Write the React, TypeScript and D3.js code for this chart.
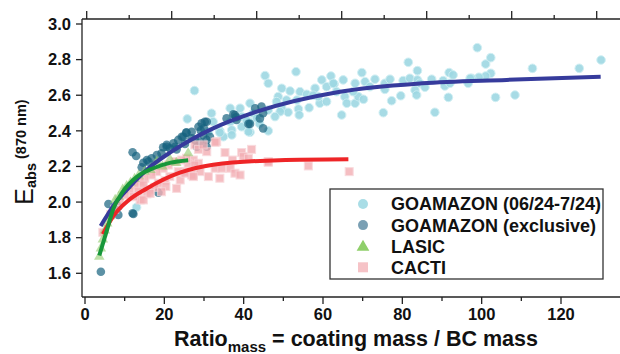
import React from "react";
import * as d3 from "d3";

type P = [number, number];

// GOAMAZON (06/24-7/24)
const goamazonAll: P[] = [
  [98.9, 2.867], [101.0, 2.775], [102.3, 2.811], [102.3, 2.723], [101.0, 2.708], [99.3, 2.701], [97.5, 2.695],
  [103.5, 2.588], [108.4, 2.601], [112.8, 2.751], [124.6, 2.751], [130.1, 2.798],
  [81.5, 2.785], [83.8, 2.738], [69.8, 2.727], [62.0, 2.708], [65.1, 2.686], [62.8, 2.663], [68.1, 2.667],
  [70.6, 2.676], [73.1, 2.69], [75.6, 2.667], [76.9, 2.69], [80.2, 2.682], [81.9, 2.695], [83.8, 2.686],
  [84.4, 2.667], [83.2, 2.629], [83.6, 2.601], [85.7, 2.645], [87.4, 2.69], [90.3, 2.682], [90.7, 2.652],
  [92.0, 2.667], [91.8, 2.727], [92.8, 2.714], [96.6, 2.667], [97.1, 2.695], [63.4, 2.62], [65.5, 2.592],
  [66.0, 2.555], [68.1, 2.555], [68.9, 2.592], [70.2, 2.577], [67.6, 2.62], [71.8, 2.648], [77.3, 2.569],
  [79.6, 2.597], [75.2, 2.502], [88.2, 2.504], [91.6, 2.588], [64.7, 2.489], [75.6, 2.633],
  [53.2, 2.732], [45.4, 2.71], [46.2, 2.667], [49.6, 2.639], [51.7, 2.624], [54.2, 2.62], [48.7, 2.592],
  [50.8, 2.573], [53.4, 2.573], [49.6, 2.527], [51.2, 2.504], [53.8, 2.523], [54.0, 2.489], [49.2, 2.508],
  [48.3, 2.564], [55.9, 2.605], [59.7, 2.686], [60.9, 2.648], [58.0, 2.639], [59.2, 2.555], [60.9, 2.564],
  [58.8, 2.592], [62.6, 2.667], [41.6, 2.555], [39.1, 2.527], [36.6, 2.527], [42.4, 2.499], [39.5, 2.48],
  [36.6, 2.451], [31.9, 2.499], [32.3, 2.451], [34.0, 2.399], [37.0, 2.405], [39.5, 2.423], [41.6, 2.392],
  [46.2, 2.517], [47.9, 2.48], [34.9, 2.367], [31.1, 2.395], [41.4, 2.451],
  [27.6, 2.626], [25.8, 2.467], [13.0, 1.971], [34.0, 2.39], [37.0, 2.377], [41.2, 2.395], [46.2, 2.40],
  [40.8, 2.457], [43.3, 2.47], [56.5, 2.53], [57.5, 2.60], [44.0, 2.44]
];

// GOAMAZON (exclusive)
const goamazonExcl: P[] = [
  [12.0, 2.28], [12.9, 2.259], [15.6, 2.236], [16.8, 2.246], [18.1, 2.264], [19.7, 2.308], [20.6, 2.321],
  [21.4, 2.302], [22.3, 2.33], [23.1, 2.296], [23.5, 2.349], [24.8, 2.367], [25.6, 2.39], [26.9, 2.358],
  [25.2, 2.326], [19.3, 2.274], [14.7, 2.221], [5.9, 1.989], [8.4, 1.974], [12.2, 1.933], [18.5, 2.053],
  [12.0, 1.937], [4.0, 1.609], [8.4, 1.928], [14.3, 2.195], [16.0, 2.227], [20.6, 2.311], [22.7, 2.311],
  [24.4, 2.367], [25.5, 2.39], [27.7, 2.349], [28.2, 2.311], [28.6, 2.423], [29.4, 2.442], [30.0, 2.414],
  [30.7, 2.451], [29.2, 2.401], [26.9, 2.395], [30.7, 2.311], [35.7, 2.47], [37.8, 2.489], [38.2, 2.461],
  [41.2, 2.439], [42.9, 2.527], [44.5, 2.536], [44.9, 2.499], [44.9, 2.414], [31.5, 2.367], [30.2, 2.451],
  [29.8, 2.377], [30.7, 2.349], [29.0, 2.339], [37.4, 2.493], [38.1, 2.476], [41.6, 2.439], [44.1, 2.47]
];

// LASIC
const lasic: P[] = [
  [3.6, 1.693], [4.0, 1.74], [4.5, 1.79], [5.0, 1.84], [5.6, 1.88], [6.3, 1.92], [7.6, 2.012], [8.5, 2.03],
  [9.5, 2.07], [10.5, 2.09], [11.5, 2.11], [12.5, 2.13], [13.5, 2.15], [15.0, 2.17], [16.5, 2.18],
  [18.1, 2.227], [19.5, 2.2], [21.4, 2.24], [23.0, 2.22], [26.0, 2.274]
];

// CACTI
const cacti: P[] = [
  [33.2, 2.339], [30.7, 2.283], [35.3, 2.278], [39.5, 2.278], [39.9, 2.255], [42.0, 2.296], [41.2, 2.246],
  [37.2, 2.236], [46.2, 2.227], [56.3, 2.203], [66.6, 2.171], [27.3, 2.236], [26.0, 2.218], [24.0, 2.124],
  [27.3, 2.152], [29.0, 2.171], [31.1, 2.143], [32.8, 2.19], [34.5, 2.19], [34.0, 2.134], [36.6, 2.19],
  [37.8, 2.162], [39.1, 2.152], [25.2, 2.171], [28.6, 2.218], [32.8, 2.336],
  [27.7, 2.321], [28.6, 2.296], [29.8, 2.321], [25.6, 2.246], [24.4, 2.236], [22.7, 2.227], [21.0, 2.208],
  [19.7, 2.19], [18.1, 2.171], [16.8, 2.152], [15.1, 2.134], [13.9, 2.115], [12.6, 2.096], [11.3, 2.068],
  [10.1, 2.04], [8.8, 2.002], [23.5, 2.171], [21.4, 2.143], [20.2, 2.12], [18.5, 2.106], [17.6, 2.083],
  [16.4, 2.068], [15.6, 2.046], [14.7, 2.096], [13.4, 2.058], [26.9, 2.152], [25.2, 2.162], [27.7, 2.208],
  [27.3, 2.143], [13.9, 2.012], [14.7, 2.012], [12.2, 2.03], [46.2, 2.224], [20.4, 2.087], [19.3, 2.058],
  [23.1, 2.077], [16.4, 2.049], [6.5, 1.93], [7.5, 1.96], [4.5, 1.83]
];

// fitted curves
const fitGoamazon: P[] = [
  [3.95, 1.866], [7.5, 1.99], [11.3, 2.087], [16, 2.19], [21.8, 2.283], [32.3, 2.414], [43.3, 2.508],
  [64.3, 2.62], [85, 2.667], [106.3, 2.686], [130, 2.704]
];
const fitLasic: P[] = [
  [3.6, 1.70], [5.5, 1.84], [7.1, 1.96], [9.6, 2.06], [13, 2.14], [17.2, 2.19], [21.4, 2.22], [26.0, 2.235]
];
const fitCacti: P[] = [
  [4.5, 1.82], [7.1, 1.92], [11, 2.01], [15.5, 2.075], [23.9, 2.165], [32.3, 2.21], [49, 2.235], [66.4, 2.24]
];

const xTicks = [0, 20, 40, 60, 80, 100, 120];
const xMinorTicks = [10, 30, 50, 70, 90, 110];
const yTicks = [1.6, 1.8, 2.0, 2.2, 2.4, 2.6, 2.8, 3.0];
const topTicks = d3.range(0, 13);

const legendLabels = ["GOAMAZON (06/24-7/24)", "GOAMAZON (exclusive)", "LASIC", "CACTI"];

const FONT = "'Liberation Sans', Arial, Helvetica, sans-serif";

export default function App() {
  const W = 620, H = 354;
  const x = d3.scaleLinear().domain([0, 120]).range([85, 561]);
  const y = d3.scaleLinear().domain([1.6, 3.0]).range([273.3, 24]);
  const top = d3.scaleLinear().domain([0, 12]).range([86.7, 596.7]);
  const left = 82, bottom = 297, topY = 19, right = 622;

  const line = d3.line<P>().x(d => x(d[0])).y(d => y(d[1])).curve(d3.curveMonotoneX);
  const tri = d3.symbol().type(d3.symbolTriangle).size(48)();

  const c1 = "#9ed8e3", c2 = "#17637f", c3 = "#8fcb6c", c4 = "#f3aeb4";

  return (
    <svg width={W} height={H} style={{ position: "absolute", left: 0, top: 0, background: "#fff" }} fontFamily={FONT}>
      {/* points */}
      <g>
        {goamazonAll.map((d, i) => (
          <circle key={"a" + i} cx={x(d[0])} cy={y(d[1])} r={4.3} fill={c1} stroke="#cdeef3" strokeWidth={1} opacity={0.9} />
        ))}
        {goamazonExcl.map((d, i) => (
          <circle key={"b" + i} cx={x(d[0])} cy={y(d[1])} r={4.3} fill={c2} opacity={0.7} />
        ))}
        {cacti.map((d, i) => (
          <rect key={"c" + i} x={x(d[0]) - 4} y={y(d[1]) - 4} width={8} height={8} fill={c4} stroke="#f8d3d6" strokeWidth={1} opacity={0.8} />
        ))}
        {lasic.map((d, i) => (
          <path key={"l" + i} d={tri || ""} transform={`translate(${x(d[0])},${y(d[1])})`} fill={c3} opacity={0.6} />
        ))}
      </g>
      {/* fits */}
      <path d={line(fitGoamazon) || ""} fill="none" stroke="#363b9c" strokeWidth={4} strokeLinecap="butt" />
      <path d={line(fitCacti) || ""} fill="none" stroke="#ee2527" strokeWidth={4} />
      <path d={line(fitLasic) || ""} fill="none" stroke="#17973a" strokeWidth={4} />

      {/* axes frame */}
      <g stroke="#222" strokeWidth={1.3}>
        <line x1={left} x2={left} y1={topY} y2={bottom} />
        <line x1={left} x2={right} y1={bottom} y2={bottom} />
        <line x1={left} x2={right} y1={topY} y2={topY} />
        {yTicks.map(t => (
          <line key={"yt" + t} x1={left - 6} x2={left} y1={y(t)} y2={y(t)} />
        ))}
        {xTicks.map(t => (
          <line key={"xt" + t} x1={x(t)} x2={x(t)} y1={bottom} y2={bottom + 7} />
        ))}
        {xMinorTicks.map(t => (
          <line key={"xm" + t} x1={x(t)} x2={x(t)} y1={bottom} y2={bottom + 4} />
        ))}
        {topTicks.map(t => (
          <line key={"tt" + t} x1={top(t)} x2={top(t)} y1={topY} y2={topY - (t % 2 === 0 ? 8 : 4)} />
        ))}
      </g>
      <g fontSize={16.5} fontWeight="bold" fill="#111">
        {yTicks.map(t => (
          <text key={"yl" + t} x={left - 11} y={y(t)} dy="0.35em" textAnchor="end">{t.toFixed(1)}</text>
        ))}
        {xTicks.map(t => (
          <text key={"xl" + t} x={x(t)} y={320} textAnchor="middle">{t}</text>
        ))}
      </g>
      {/* axis titles */}
      <text transform="translate(33,152) rotate(-90)" textAnchor="middle" fill="#111">
        <tspan fontSize={25}>E</tspan>
        <tspan fontSize={14.5} fontWeight="bold" dy={3}>abs</tspan>
        <tspan fontSize={14.5} fontWeight="bold" dy={-10}> (870 nm)</tspan>
      </text>
      <text x={356} y={346} textAnchor="middle" fill="#111" fontWeight="bold">
        <tspan fontSize={21.5}>Ratio</tspan>
        <tspan fontSize={15} dy={6}>mass</tspan>
        <tspan fontSize={21.5} dy={-6}> = coating mass / BC mass</tspan>
      </text>

      {/* legend */}
      <rect x={330} y={189} width={273} height={90} fill="#fff" stroke="#333" strokeWidth={1.3} />
      {legendLabels.map((lab, i) => {
        const cy = 204 + i * 21.1;
        return (
          <g key={lab}>
            {i === 0 && <circle cx={363} cy={cy} r={5} fill="#a9dde6" />}
            {i === 1 && <circle cx={363} cy={cy} r={5} fill="#7aa0b4" />}
            {i === 2 && <path d={d3.symbol().type(d3.symbolTriangle).size(70)() || ""} transform={`translate(363,${cy + 1})`} fill="#8fcf6a" />}
            {i === 3 && <rect x={358} y={cy - 5} width={10} height={10} fill="#f6c3c7" />}
            <text x={391} y={cy} dy="0.36em" fontSize={18} fontWeight="bold" fill="#111">{lab}</text>
          </g>
        );
      })}
    </svg>
  );
}
